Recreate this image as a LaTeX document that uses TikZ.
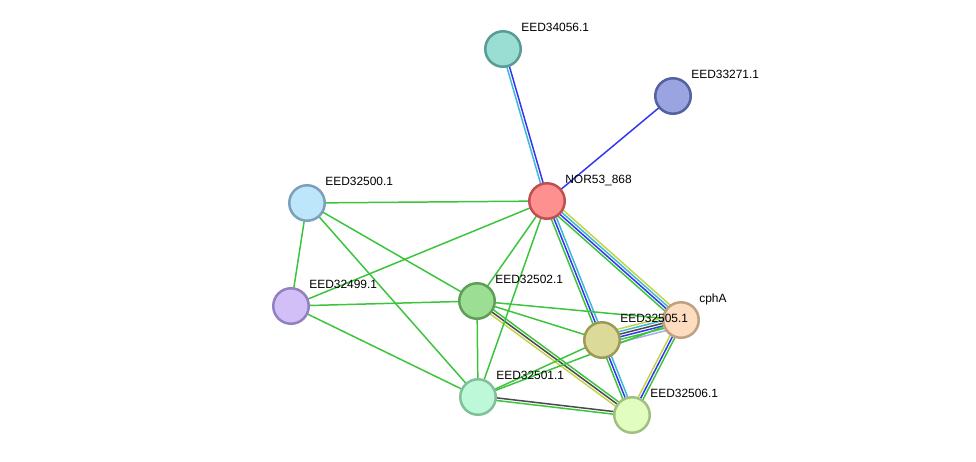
\documentclass[tikz,border=0pt]{standalone}
\usepackage{fontspec}
\setmainfont{Liberation Sans}
\usetikzlibrary{calc, backgrounds}

\definecolor{evgreen}{HTML}{3CC43C}
\definecolor{evblue}{HTML}{3434F0}
\definecolor{evcyan}{HTML}{3CB8D8}
\definecolor{evyellow}{HTML}{C4D448}
\definecolor{evgray}{HTML}{4A4A4A}
\definecolor{evlav}{HTML}{A8A8F4}

\tikzstyle{protein} = [circle, minimum size=0.71cm, inner sep=0pt, line width=0.05cm]
\tikzstyle{plabel} = [font=\fontsize{6.8}{8}\selectfont, anchor=base west, inner sep=0pt]
\tikzstyle{link} = [line width=0.85pt, line cap=round]

% parallel coloured lines between two proteins: from, to, colour/offset list
\newcommand{\evband}[3]{%
  \foreach \col/\off in {#3}
    \draw[link, \col] ($(#1)!\off pt!90:(#2)$) -- ($(#2)!\off pt!-90:(#1)$);
}

\begin{document}
\begin{tikzpicture}[x=0.02cm, y=-0.02cm]
\useasboundingbox (0,0) rectangle (976,461);

\node (p34056) [protein, fill={rgb,255:red,153;green,221;blue,211}, draw={rgb,255:red,88;green,156;blue,148}] at (503,49) {};
\node (p33271) [protein, fill={rgb,255:red,154;green,164;blue,224}, draw={rgb,255:red,84;green,96;blue,160}] at (673,96) {};
\node (nor) [protein, fill={rgb,255:red,255;green,144;blue,144}, draw={rgb,255:red,192;green,80;blue,80}] at (547,201) {};
\node (p32500) [protein, fill={rgb,255:red,190;green,230;blue,251}, draw={rgb,255:red,122;green,160;blue,188}] at (307,203) {};
\node (p32499) [protein, fill={rgb,255:red,210;green,191;blue,247}, draw={rgb,255:red,146;green,128;blue,192}] at (291,306) {};
\node (p32502) [protein, fill={rgb,255:red,157;green,222;blue,149}, draw={rgb,255:red,94;green,158;blue,88}] at (477,301) {};
\node (p32505) [protein, fill={rgb,255:red,220;green,218;blue,152}, draw={rgb,255:red,156;green,154;blue,88}] at (602,340) {};
\node (cpha) [protein, fill={rgb,255:red,253;green,220;blue,191}, draw={rgb,255:red,192;green,160;blue,128}] at (681,320) {};
\node (p32501) [protein, fill={rgb,255:red,189;green,248;blue,216}, draw={rgb,255:red,128;green,192;blue,154}] at (478,397) {};
\node (p32506) [protein, fill={rgb,255:red,226;green,253;blue,192}, draw={rgb,255:red,160;green,192;blue,128}] at (632,415) {};

\node (t34056) [plabel] at ($(p34056)+(18,-18)$) {EED34056.1};
\node (t33271) [plabel] at ($(p33271)+(18,-18)$) {EED33271.1};
\node (tnor) [plabel] at ($(nor)+(18,-18)$) {NOR53\_868};
\node (t32500) [plabel] at ($(p32500)+(18,-18)$) {EED32500.1};
\node (t32499) [plabel] at ($(p32499)+(18,-18)$) {EED32499.1};
\node (t32502) [plabel] at ($(p32502)+(18,-18)$) {EED32502.1};
\node (t32505) [plabel] at ($(p32505)+(18,-18)$) {EED32505.1};
\node (tcpha) [plabel] at ($(cpha)+(18,-18)$) {cphA};
\node (t32501) [plabel] at ($(p32501)+(18,-18)$) {EED32501.1};
\node (t32506) [plabel] at ($(p32506)+(18,-18)$) {EED32506.1};

\begin{scope}[on background layer]
\evband{p34056}{nor}{evcyan/-0.75, evblue/0.75}
\evband{p33271}{nor}{evblue/0}
\evband{nor}{p32506}{evgreen/-1.5, evblue/0, evcyan/1.5}
\evband{nor}{cpha}{evgreen/-2.25, evblue/-0.75, evcyan/0.75, evyellow/2.25}
\evband{p32505}{cpha}{evlav/-3.75, evgreen/-2.25, evblue/-0.75, evgray/0.75, evcyan/2.25, evyellow/3.75}
\evband{cpha}{p32506}{evyellow/-1.5, evblue/0, evgreen/1.5}
\evband{p32502}{p32506}{evyellow/-1.5, evgray/0, evgreen/1.5}
\evband{p32501}{p32506}{evgreen/-0.75, evgray/0.75}
% single green links
\foreach \a/\b in {nor/p32500, nor/p32499, nor/p32502, nor/p32501,
                   p32500/p32499, p32500/p32502, p32500/p32501,
                   p32499/p32502, p32499/p32501, p32502/p32501,
                   p32502/p32505, p32502/cpha, p32501/p32505, p32501/cpha}
  \draw[link, evgreen] (\a) -- (\b);
\end{scope}
\end{tikzpicture}
\end{document}
